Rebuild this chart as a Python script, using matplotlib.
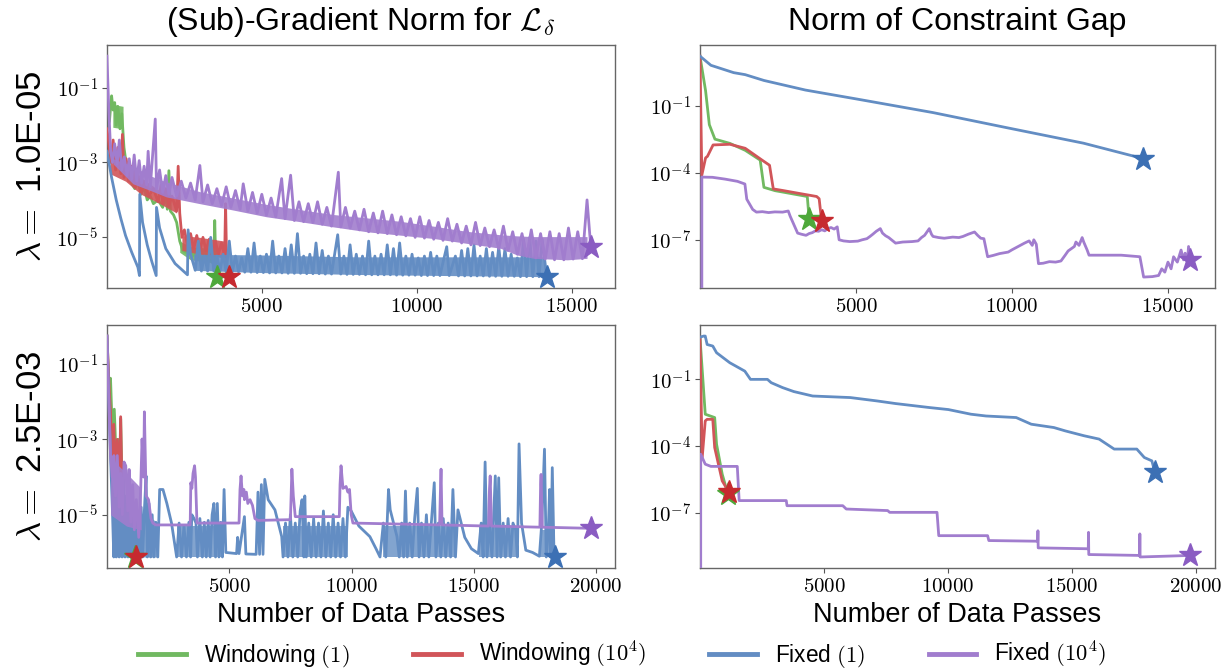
import numpy as np
import matplotlib
matplotlib.use("Agg")
import matplotlib.pyplot as plt
from matplotlib.ticker import FixedLocator, FuncFormatter, NullLocator
from matplotlib.lines import Line2D

plt.rcParams['mathtext.fontset'] = 'cm'
plt.rcParams['font.family'] = ['Liberation Sans', 'DejaVu Sans']

# ---------------- labels ----------------
series_labels = ['Windowing $(1)$', 'Windowing $(10^4)$', 'Fixed $(1)$', 'Fixed $(10^4)$']
col_titles = [r'(Sub)-Gradient Norm for $\mathcal{L}_\delta$', 'Norm of Constraint Gap']
row_labels = [r'$\lambda =$ 1.0E-05', r'$\lambda =$ 2.5E-03']
x_label = 'Number of Data Passes'
ytick_left = [1e-1, 1e-3, 1e-5]
ytick_right = [1e-1, 1e-4, 1e-7]
xtick_top = [5000, 10000, 15000]
xtick_bottom = [5000, 10000, 15000, 20000]

# ---------------- data: (data passes, log10 value) ----------------
NEG = float('-inf')  # value 0

# top-left: gradient norm, lambda = 1e-5
TL_WIN1 = [(0,-2.1),(80,-1.9),(150,-1.22),(200,-1.6),(250,-1.4),(300,-2.0),(350,-1.5),(420,-2.1),
           (480,-1.7),(550,-2.6),(650,-3.2),(750,-3.5),(900,-3.7),(1000,-3.5),(1100,-3.85),(1200,-3.65),
           (1300,-4.0),(1400,-3.9),(1500,-4.1),(1650,-4.0),(1800,-4.2),(1900,-3.9),(1950,-4.25),(2000,-3.22),
           (2050,-4.3),(2150,-4.4),(2250,-4.6),(2350,-5.1),(2450,-5.35),(2550,-5.4),(2650,-5.2),(2750,-5.5),
           (2900,-5.4),(3050,-5.6),(3200,-5.45),(3300,-5.6),(3450,-5.7),(3480,-4.55),(3520,-5.9),(3540,-6.06)]
TL_WIN1_BANDS = [[(190,-2.06,-1.45),(520,-2.1,-1.5)],
                 [(2350,-5.4,-5.1),(2700,-5.6,-5.25),(3450,-5.68,-5.3)]]
TL_WIN4 = [(0,-2.1),(60,-2.5),(120,-3.0),(200,-2.4),(280,-3.2),(350,-2.6),(450,-3.3),(500,-2.25),
           (550,-3.4),(620,-2.9),(700,-3.5),(800,-3.1),(900,-3.65),(1000,-3.4),(1100,-3.8),(1200,-3.5),
           (1350,-3.9),(1500,-3.7),(1650,-4.05),(1750,-3.6),(1800,-4.1),(1900,-3.7),(2000,-4.15),(2100,-3.9),
           (2250,-4.3),(2300,-3.1),(2350,-4.35),(2420,-5.0),(2500,-4.8),(2600,-5.2),(2700,-4.9),(2800,-5.3),
           (2900,-4.95),(3000,-5.35),(3100,-5.0),(3200,-5.35),(3300,-5.05),(3400,-5.4),(3500,-5.1),(3600,-5.45),
           (3700,-5.15),(3800,-5.5),(3830,-4.1),(3870,-5.95),(3940,-6.06)]
TL_WIN4_BANDS = [[(100,-3.3,-2.6),(600,-3.5,-2.9),(1100,-3.85,-3.4),(1600,-4.05,-3.7),(2250,-4.35,-3.95)],
                 [(2420,-5.35,-4.95),(3000,-5.45,-5.0),(3800,-5.55,-5.1)]]
TL_FIX1 = [(0,-2.7),(150,-3.4),(300,-4.0),(450,-4.5),(600,-4.95),(800,-5.4),(1000,-5.8),(1050,-6.02),
           (1060,-3.85),(1150,-4.6),(1300,-5.2),(1450,-5.65),(1590,-6.02),
           (1600,-4.2),(1700,-4.75),(1900,-5.3),(2200,-5.7),(2600,-6.0),
           (2620,-4.8),(2700,-5.45),(2850,-5.88),
           (2950,-5.1),(3050,-5.9),(3150,-5.5),(3250,-5.9),(3350,-5.0),(3450,-5.9),(3550,-5.5),(3650,-5.9),
           (3750,-5.45),(3850,-5.92),(3950,-5.1),(4050,-5.92),(4150,-5.5),(4250,-5.92),(4350,-5.55),(4450,-5.93),
           (4550,-5.3),(4650,-5.93),(4750,-5.15),(4850,-5.94),(4950,-5.5),(5050,-5.94),(5150,-5.45),(5250,-5.95),
           (5350,-5.1),(5450,-5.95),(5550,-5.5),(5650,-5.95),(5750,-5.3),(5850,-5.96),(5950,-5.2),(6050,-5.96),
           (6150,-4.9),(6250,-5.96),(6350,-5.5),(6450,-5.97),(6550,-5.45),(6650,-5.97),(6750,-5.15),(6850,-5.97),
           (6950,-5.35),(7050,-5.98),(7150,-5.5),(7250,-5.98),(7450,-4.93),(7550,-5.98),(7650,-5.5),(7750,-5.99),
           (7850,-5.2),(7950,-5.99),(8050,-5.45),(8150,-5.99),(8250,-5.5),(8350,-6.0),(8450,-5.1),(8550,-6.0),
           (8650,-5.5),(8750,-6.0),(8850,-5.45),(8950,-6.0),(9050,-5.2),(9150,-6.0),(9250,-5.3),(9350,-6.01),
           (9450,-5.15),(9550,-6.01),(9650,-5.5),(9750,-6.01),(9850,-5.45),(9950,-6.01),(10050,-5.55),(10150,-6.02),
           (10250,-5.5),(10350,-6.02),(10450,-5.4),(10550,-6.02),(10650,-5.5),(10750,-6.02),(10970,-5.25),(11050,-6.02),
           (11250,-5.5),(11350,-6.03),(11450,-5.35),(11550,-6.03),(11650,-5.3),(11750,-6.03),(11850,-5.2),(11950,-6.03),
           (12050,-5.5),(12150,-6.03),(12250,-5.3),(12350,-6.04),(12450,-5.4),(12550,-6.04),(12650,-5.25),(12750,-6.04),
           (12850,-5.3),(12950,-6.04),(13050,-5.45),(13150,-6.04),(13250,-5.55),(13350,-6.05),(13450,-5.05),(13550,-6.05),
           (13650,-5.0),(13750,-6.05),(13850,-5.1),(13950,-6.05),(14050,-5.05),(14200,-6.05)]
TL_FIX1_BANDS = [[(2800,-5.88,-5.45),(5000,-5.94,-5.47),(8000,-5.99,-5.52),(11000,-6.02,-5.52),(14150,-6.05,-5.52)]]
TL_FIX4 = [(0,-0.16),(60,-1.6),(120,-2.7),(180,-3.0),(250,-2.5),(330,-3.05),(400,-2.4),(480,-3.2),(560,-2.85),
           (650,-3.35),(720,-2.9),(800,-3.45),(880,-2.8),(960,-3.5),(1040,-2.95),(1120,-3.55),(1200,-3.1),
           (1280,-3.6),(1330,-2.7),(1400,-3.65),(1560,-1.84),(1600,-3.7),(1700,-3.2),(1800,-3.8),(1900,-3.35),
           (2000,-3.85),(2100,-3.4),(2250,-3.9),(2400,-3.5),(2550,-3.95),(2700,-3.55),(2850,-4.0),(3000,-3.08),
           (3100,-4.05),(3250,-3.6),(3400,-4.1),(3550,-3.7),(3700,-4.15),(3850,-3.65),(4000,-4.2),(4150,-3.75),
           (4300,-4.25),(4400,-3.57),(4550,-4.3),(4700,-3.8),(4850,-4.35),(5000,-3.85),(5150,-4.4),(5300,-3.95),
           (5450,-4.45),(5640,-3.43),(5750,-4.5),(5930,-3.34),(6050,-4.55),(6200,-4.05),(6350,-4.58),(6500,-4.1),
           (6650,-4.6),(6800,-4.05),(6950,-4.65),(7100,-4.2),(7250,-4.7),(7470,-3.26),(7550,-4.72),(7700,-4.2),
           (7850,-4.75),(8000,-4.3),(8150,-4.8),(8300,-4.25),(8450,-4.85),(8600,-4.35),(8750,-4.88),(8900,-4.3),
           (9050,-4.9),(9200,-4.4),(9350,-4.93),(9500,-4.45),(9650,-4.96),(9800,-4.5),(9950,-5.0),(10100,-4.45),
           (10250,-5.02),(10400,-4.55),(10550,-5.05),(10700,-4.6),(10850,-5.08),(11000,-4.5),(11150,-5.1),
           (11300,-4.65),(11450,-5.15),(11600,-4.7),(11750,-5.2),(11900,-4.6),(12050,-5.22),(12200,-4.75),
           (12350,-5.25),(12500,-4.8),(12650,-5.3),(12800,-4.7),(12950,-5.35),(13100,-4.85),(13250,-5.45),
           (13400,-4.9),(13550,-5.5),(13700,-4.8),(13850,-5.55),(14000,-4.9),(14150,-5.58),(14300,-4.85),
           (14450,-5.6),(14600,-4.9),(14750,-5.6),(14900,-4.75),(15050,-5.58),(15200,-4.85),(15350,-5.57),
           (15500,-4.0),(15620,-5.25)]
TL_FIX4_BANDS = [[(200,-3.04,-2.9),(840,-3.57,-3.1),(1380,-3.74,-3.35),(1920,-3.92,-3.52),(3000,-4.1,-3.78),
                  (4075,-4.27,-3.95),(5150,-4.45,-4.12),(6230,-4.58,-4.26),(7310,-4.72,-4.39),(8390,-4.85,-4.48),
                  (9465,-4.94,-4.57),(10540,-5.03,-4.7),(11620,-5.16,-4.84),(12700,-5.29,-4.93),(13240,-5.47,-4.96),
                  (13780,-5.56,-4.98),(14860,-5.6,-4.98),(15500,-5.56,-4.98)]]

# top-right: constraint gap, lambda = 1e-5
TR_WIN1 = [(0,1.23),(180,-0.32),(300,-1.84),(480,-2.49),(960,-2.68),(1450,-2.99),(1930,-3.43),(2050,-4.65),
           (2410,-4.8),(3440,-5.06),(3500,-6.09)]
TR_WIN4 = [(0,1.23),(60,-4.1),(180,-3.33),(240,-3.26),(420,-2.75),(960,-2.72),(1450,-2.9),(1990,-3.43),
           (2230,-3.66),(2350,-4.72),(2650,-4.79),(3250,-4.94),(3740,-5.06),(3820,-5.16),(3900,-6.17)]
TR_FIX1 = [(0,1.23),(350,0.82),(1080,0.49),(1450,0.4),(2050,0.14),(3380,-0.29),(5060,-0.70),(7470,-1.30),
           (9880,-1.99),(12290,-2.67),(14200,-3.36)]
TR_FIX4 = [(0,NEG),(60,-4.19),(400,-4.2),(800,-4.28),(1200,-4.38),(1440,-4.5),(1500,-5.18),(1690,-5.64),
           (1810,-5.76),(2000,-5.74),(2200,-5.78),(2400,-5.75),(2650,-5.76),(2830,-5.71),(2890,-5.94),(3010,-6.32),
           (3130,-6.7),(3250,-6.75),(3400,-6.8),(3500,-6.72),(3600,-6.68),(3700,-6.6),(3800,-6.62),(3900,-6.55),
           (4000,-6.6),(4100,-6.5),(4200,-6.45),(4300,-6.52),(4400,-6.42),(4460,-7.0),(4600,-7.05),(4800,-7.08),
           (5060,-7.06),(5200,-7.0),(5350,-6.95),(5450,-6.85),(5540,-6.75),(5650,-6.62),(5780,-6.5),(5850,-6.7),
           (5950,-6.82),(6050,-6.9),(6270,-7.15),(6500,-7.1),(6800,-7.08),(6990,-7.05),(7100,-6.9),(7200,-6.8),
           (7300,-6.6),(7350,-6.5),(7420,-6.75),(7470,-6.85),(7650,-6.9),(7830,-6.93),(8100,-6.88),(8300,-6.9),
           (8430,-6.85),(8600,-6.75),(8800,-6.65),(8900,-6.8),(9000,-6.93),(9100,-6.95),(9220,-7.76),(9400,-7.7),
           (9600,-7.62),(9880,-7.55),(10000,-7.45),(10200,-7.3),(10400,-7.15),(10550,-7.05),(10650,-7.25),
           (10700,-7.0),(10780,-7.2),(10850,-8.07),(11000,-8.05),(11200,-7.98),(11400,-8.0),(11570,-7.95),
           (11700,-7.7),(11800,-7.5),(11900,-7.4),(12000,-7.3),(12050,-7.1),(12150,-7.25),(12250,-6.9),
           (12300,-7.1),(12410,-7.46),(12470,-7.69),(13000,-7.69),(13500,-7.69),(14100,-7.76),(14220,-8.67),
           (14500,-8.65),(14700,-8.6),(14800,-8.3),(14900,-8.45),(15000,-8.0),(15100,-8.3),(15180,-7.76),
           (15300,-8.0),(15420,-7.46),(15500,-7.9),(15550,-7.6),(15620,-8.0),(15660,-7.3),(15720,-7.91)]

# bottom-left: gradient norm, lambda = 2.5e-3
BL_WIN1 = [(0,-0.26),(80,-1.5),(146,-1.38),(220,-2.8),(300,-2.2),(380,-3.6),(460,-3.0),(540,-4.2),(561,-2.45),
           (640,-4.9),(760,-5.6),(900,-6.0),(1050,-6.1),(1157,-6.12)]
BL_WIN4 = [(0,-0.26),(100,-1.8),(146,-2.27),(200,-3.5),(280,-2.6),(350,-4.2),(420,-3.0),(500,-4.5),(561,-2.4),
           (631,-4.8),(700,-5.3),(800,-5.6),(900,-5.9),(1000,-6.05),(1100,-6.1),(1185,-6.12)]
BL_FIX1 = [(0,-0.26),(80,-2.0),(150,-3.5),(220,-4.8),(280,-6.12),(330,-4.0),(380,-6.12),(440,-3.8),(500,-6.12),
           (560,-4.3),(620,-6.12),(680,-4.0),(740,-6.12),(800,-4.5),(860,-6.12),(920,-4.6),(980,-6.12),(1040,-4.9),
           (1100,-6.12),(1160,-4.7),(1220,-6.12),(1280,-5.0),(1340,-6.12),(1400,-4.8),(1460,-6.12),(1530,-4.9),
           (1600,-3.97),(1650,-6.12),(1720,-4.7),(1790,-6.12),(1850,-5.0),(1920,-6.12),(2000,-5.2),(2080,-6.12),
           (2155,-4.33),(2290,-4.33),(2450,-4.7),(2640,-5.22),(2850,-6.12),
           (2950,-5.22),(3050,-6.12),(3150,-5.3),(3250,-6.12),(3350,-5.2),(3420,-6.12),(3470,-5.0),(3560,-5.1),
           (3640,-5.22),(3700,-6.12),(3800,-5.1),(3900,-6.12),(3980,-5.2),(4060,-6.12),(4140,-5.15),(4220,-6.12),
           (4300,-5.0),(4373,-4.7),(4440,-6.12),(4512,-4.7),(4580,-6.12),(4650,-5.2),(4720,-6.12),(4789,-4.33),
           (4860,-6.0),(5300,-6.03),(5343,-5.6),(5400,-6.03),(5621,-5.05),(5680,-6.04),(6100,-6.05),(6175,-4.4),
           (6240,-6.05),(6314,-4.2),(6380,-6.05),(6452,-4.06),(6591,-4.6),(6868,-4.87),(7145,-5.58),(7200,-6.12),
           (7300,-5.22),(7400,-6.12),(7500,-5.0),(7600,-6.12),(7700,-5.22),(7800,-6.12),(7900,-4.9),(7977,-4.6),
           (8050,-6.12),(8088,-4.5),(8150,-6.12),(8250,-5.22),(8350,-6.12),(8450,-5.1),(8550,-6.12),(8650,-5.22),
           (8750,-6.12),(8850,-4.9),(8950,-6.12),(9050,-5.22),(9150,-6.12),(9250,-5.0),(9350,-6.12),(9450,-5.22),
           (9550,-6.12),(9650,-5.1),(9750,-6.12),(9850,-4.8),(9986,-4.9),(10300,-5.3),(10749,-5.58),(11000,-5.9),
           (11164,-6.12),(11300,-5.22),(11400,-6.12),(11511,-4.33),(11581,-4.87),(11858,-5.58),(11950,-6.12),
           (12050,-5.22),(12130,-6.12),(12204,-4.37),(12280,-6.12),(12380,-5.22),(12480,-6.12),(12580,-5.1),
           (12689,-4.3),(12760,-6.12),(12860,-5.22),(12960,-6.12),(13060,-5.0),(13160,-6.12),(13260,-5.22),
           (13382,-4.15),(13450,-6.12),(13550,-5.22),(13650,-6.12),(13750,-5.1),(13850,-6.12),(13950,-5.22),
           (14050,-6.12),(14144,-4.33),(14250,-6.12),(14350,-4.87),(14629,-5.6),(14900,-5.9),(15184,-6.03),
           (15300,-5.22),(15380,-6.12),(15461,-3.6),(15540,-6.12),(15640,-5.22),(15740,-6.12),(15877,-3.97),
           (15950,-6.12),(16016,-4.02),(16100,-6.12),(16200,-5.22),(16293,-6.12),(16400,-5.1),(16500,-6.12),
           (16600,-5.22),(16709,-5.4),(16780,-6.12),(16848,-3.12),(16950,-5.22),(17125,-5.94),(17400,-6.0),
           (17680,-6.1),(17780,-5.2),(17888,-3.26),(17960,-6.12),(18040,-5.5),(18096,-4.33),(18150,-6.12),
           (18207,-3.75),(18280,-6.12),(18330,-6.12)]
BL_FIX1_BANDS = [[(280,-6.12,-4.3),(1000,-6.12,-4.8),(2080,-6.12,-5.2)],
                 [(2850,-6.12,-5.3),(4750,-6.12,-5.3)],
                 [(7200,-6.12,-5.3),(9850,-6.12,-5.3)],
                 [(11300,-6.12,-5.3),(14250,-6.12,-5.3)],
                 [(15200,-6.12,-5.3),(16800,-6.12,-5.3)],
                 [(17700,-6.12,-5.4),(18300,-6.12,-5.4)]]
BL_FIX4 = [(0,-0.26),(100,-2.5),(146,-3.4),(215,-4.0),(284,-3.43),(350,-4.5),(423,-3.43),(500,-4.8),(561,-3.9),
           (631,-5.0),(700,-3.6),(769,-3.7),(850,-4.9),(908,-3.8),(977,-5.2),(1050,-4.2),(1120,-5.4),(1200,-4.6),
           (1300,-5.6),(1380,-4.3),(1435,-2.99),(1500,-4.0),(1531,-2.27),(1601,-4.5),(1700,-4.6),(1800,-5.1),
           (1878,-5.22),(2000,-5.27),(3403,-5.27),(3430,-4.15),(3472,-4.3),(3520,-3.9),(3583,-3.7),(3620,-4.0),
           (3680,-5.22),(3818,-5.22),(5400,-5.22),(5440,-4.33),(5482,-3.97),(5540,-4.5),(5600,-4.33),(5621,-4.6),
           (5700,-4.4),(5759,-4.7),(5850,-4.6),(5950,-4.75),(6050,-5.1),(6175,-5.15),(7500,-5.13),(7530,-4.5),
           (7561,-3.79),(7620,-4.5),(7699,-5.05),(9500,-5.05),(9530,-4.2),(9570,-3.7),(9650,-4.3),(9778,-4.25),
           (9850,-4.4),(9917,-4.33),(9986,-5.0),(10056,-5.22),(13600,-5.27),(13640,-4.2),(13659,-3.79),
           (13700,-5.27),(15600,-5.3),(15640,-4.3),(15669,-3.97),(15720,-5.3),(17700,-5.33),(17730,-4.2),
           (17749,-3.93),(17800,-5.33),(19780,-5.36)]
BL_FIX4_BANDS = [[(150,-5.0,-3.5),(800,-5.3,-3.9),(1400,-5.4,-4.3)]]

# bottom-right: constraint gap, lambda = 2.5e-3
BR_WIN1 = [(0,0.9),(213,-2.57),(593,-2.72),(669,-3.92),(897,-5.27),(1125,-6.16)]
BR_WIN4 = [(0,0.9),(90,-4.52),(213,-2.87),(289,-2.8),(517,-2.8),(593,-4.07),(897,-5.57),(1170,-6.09)]
BR_FIX1 = [(0,0.90),(150,0.95),(213,0.95),(289,0.57),(517,0.50),(669,0.20),(1201,-0.25),(1809,-0.63),
           (2037,-1.0),(2721,-1.0),(2873,-1.15),(3329,-1.37),(3785,-1.55),(4545,-1.75),(6065,-1.82),(7129,-1.97),
           (7889,-2.09),(9257,-2.27),(10017,-2.36),(10929,-2.57),(11537,-2.65),(12753,-2.72),(13361,-3.02),
           (14273,-3.17),(14729,-3.32),(15489,-3.54),(16097,-3.69),(16705,-4.14),(17617,-4.14),(17921,-4.52),
           (18225,-4.67),(18346,-5.19)]
BR_FIX4 = [(0,NEG),(30,-4.37),(213,-4.82),(441,-4.92),(1505,-4.92),(1581,-6.46),(3480,-6.46),(3510,-6.69),
           (5760,-6.69),(5900,-6.84),(7570,-6.91),(7650,-6.99),(9560,-6.99),(9630,-8.04),(11600,-8.04),
           (11650,-8.26),(13620,-8.29),(13630,-7.82),(13640,-8.59),(15660,-8.63),(15670,-7.89),(15680,-8.89),
           (17730,-8.93),(17740,-7.96),(17750,-9.0),(19780,-8.93)]

panels = [[[TL_WIN1, TL_WIN4, TL_FIX1, TL_FIX4], [TR_WIN1, TR_WIN4, TR_FIX1, TR_FIX4]],
          [[BL_WIN1, BL_WIN4, BL_FIX1, BL_FIX4], [BR_WIN1, BR_WIN4, BR_FIX1, BR_FIX4]]]
bands = [[[TL_WIN1_BANDS, TL_WIN4_BANDS, TL_FIX1_BANDS, TL_FIX4_BANDS], [[], [], [], []]],
         [[[], [], BL_FIX1_BANDS, BL_FIX4_BANDS], [[], [], [], []]]]

# marker (star) colours and the lighter line colours
star_colors = ['#4ea83a', '#c62a2f', '#3c70b4', '#8a5cc2']
line_colors = ['#71b961', '#d15559', '#638dc3', '#a17dce']


def unpack(pts):
    x = np.array([p[0] for p in pts], dtype=float)
    y = 10.0 ** np.array([p[1] for p in pts], dtype=float)
    return x, y


fig = plt.figure(figsize=(12.25, 6.70), dpi=100)
L = [0.0873, 0.5714]
W = [0.4147, 0.4204]
B = [0.570, 0.1522]
H = 0.3627

for r in range(2):
    for c in range(2):
        ax = fig.add_axes([L[c], B[r], W[c], H])
        ax.set_yscale('log')
        for k, pts in enumerate(panels[r][c]):
            x, y = unpack(pts)
            for band in bands[r][c][k]:
                bx = np.array([b[0] for b in band], dtype=float)
                blo = 10.0 ** np.array([b[1] for b in band], dtype=float)
                bhi = 10.0 ** np.array([b[2] for b in band], dtype=float)
                fa = 0.8 if (r == 1 and k == 2) else 0.9
                ax.fill_between(bx, blo, bhi, color=line_colors[k], lw=0, alpha=fa, zorder=2 + k)
            ax.plot(x, y, color=line_colors[k], lw=2.0, zorder=2.1 + k)
            ax.plot([x[-1]], [y[-1]], marker='*', ms=17, color=star_colors[k],
                    mec=star_colors[k], ls='none', zorder=10 + k)
        ax.set_xlim(left=0)
        ax.yaxis.set_major_locator(FixedLocator(ytick_left if c == 0 else ytick_right))
        ax.yaxis.set_minor_locator(NullLocator())
        ax.xaxis.set_major_locator(FixedLocator(xtick_top if r == 0 else xtick_bottom))
        ax.xaxis.set_minor_locator(NullLocator())
        ax.yaxis.set_major_formatter(FuncFormatter(lambda v, p: r'$10^{%d}$' % int(round(np.log10(v)))))
        ax.xaxis.set_major_formatter(FuncFormatter(lambda v, p: r'$%d$' % int(v)))
        ax.tick_params(axis='both', which='major', labelsize=15, length=3.5, width=0.8,
                       color='#555555', direction='out', pad=3)
        for s in ax.spines.values():
            s.set_color('#666666')
            s.set_linewidth(1.0)
        if r == 0:
            ax.set_title(col_titles[c], fontsize=23, pad=11)
        if r == 1:
            ax.set_xlabel(x_label, fontsize=19.5, labelpad=4)
        if c == 0:
            ax.set_ylabel(row_labels[r], fontsize=25, labelpad=6)

handles = [Line2D([0], [0], color=line_colors[k], lw=3.5) for k in range(4)]
fig.legend(handles, series_labels, loc='center', bbox_to_anchor=(0.508, 0.022), ncol=4,
           frameon=False, fontsize=16.3, handlelength=2.1, columnspacing=2.8, handletextpad=0.8)

fig.savefig('out.png', dpi=100)
